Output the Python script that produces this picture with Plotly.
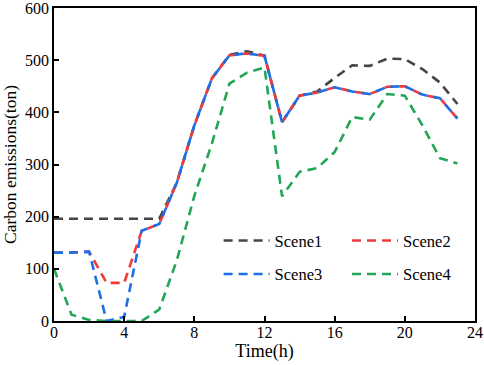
import plotly.graph_objects as go

hours = list(range(24))
scene1 = [196, 196, 196, 196, 196, 196, 196, 265, 375, 465, 510, 517, 509, 381, 432, 440,
          466, 490, 489, 503, 502, 483, 457, 416]
scene2 = [131, 131, 133, 73, 73, 173, 186, 265, 375, 465, 509, 513, 508, 381, 432, 438,
          448, 440, 435, 449, 450, 434, 427, 388]
scene3 = [131, 131, 133, 0, 8, 173, 186, 265, 375, 465, 509, 513, 508, 381, 432, 438,
          448, 440, 435, 449, 450, 434, 427, 388]
scene4 = [100, 12, 2, 0, 0, 0, 22, 116, 240, 340, 455, 476, 486, 239, 286, 293,
          324, 391, 386, 435, 432, 375, 312, 302]

names = ["Scene1", "Scene2", "Scene3", "Scene4"]
series = [scene1, scene2, scene3, scene4]
colors = ["#454545", "#f03a3a", "#1c6fe6", "#22a555"]
legends = ["legend", "legend2", "legend", "legend2"]

FONT = "Liberation Serif"
fig = go.Figure()
for i, (n, s, c, lg) in enumerate(zip(names, series, colors, legends)):
    fig.add_trace(go.Scatter(
        x=hours, y=s, name=n, mode="lines",
        line=dict(color=c, width=2.6, dash="9px,6px"),
        legend=lg, legendgroup=n,
    ))

axis_common = dict(
    showline=True, linecolor="black", linewidth=1.5, mirror=True,
    ticks="inside", ticklen=5, tickwidth=1.5, tickcolor="black",
    showgrid=False, zeroline=False, automargin=False,
    tickfont=dict(family=FONT, size=16, color="black"),
    ticklabeloverflow="allow",
)

fig.update_layout(
    width=484, height=365,
    margin=dict(l=54, r=9, t=8, b=44),
    paper_bgcolor="white", plot_bgcolor="white",
    font=dict(family=FONT, size=16, color="black"),
    xaxis=dict(range=[0, 24], dtick=4, tick0=0, ticklabelstandoff=-4,
               title=dict(text="Time(h)", font=dict(family=FONT, size=18), standoff=3),
               **axis_common),
    yaxis=dict(range=[0, 600], dtick=100, tick0=0,
               title=dict(text="Carbon emissions(ton)", font=dict(family=FONT, size=17.5), standoff=6),
               **axis_common),
    legend=dict(x=0.391, y=0.312, xanchor="left", yanchor="top",
                bgcolor="rgba(0,0,0,0)", tracegroupgap=9, itemwidth=46,
                font=dict(family=FONT, size=16.5)),
    legend2=dict(x=0.696, y=0.312, xanchor="left", yanchor="top",
                 bgcolor="rgba(0,0,0,0)", tracegroupgap=9, itemwidth=46,
                 font=dict(family=FONT, size=16.5)),
    showlegend=True,
)

fig.write_html("out.html", config={"displayModeBar": False},
               post_script="document.body.style.margin='0';")
